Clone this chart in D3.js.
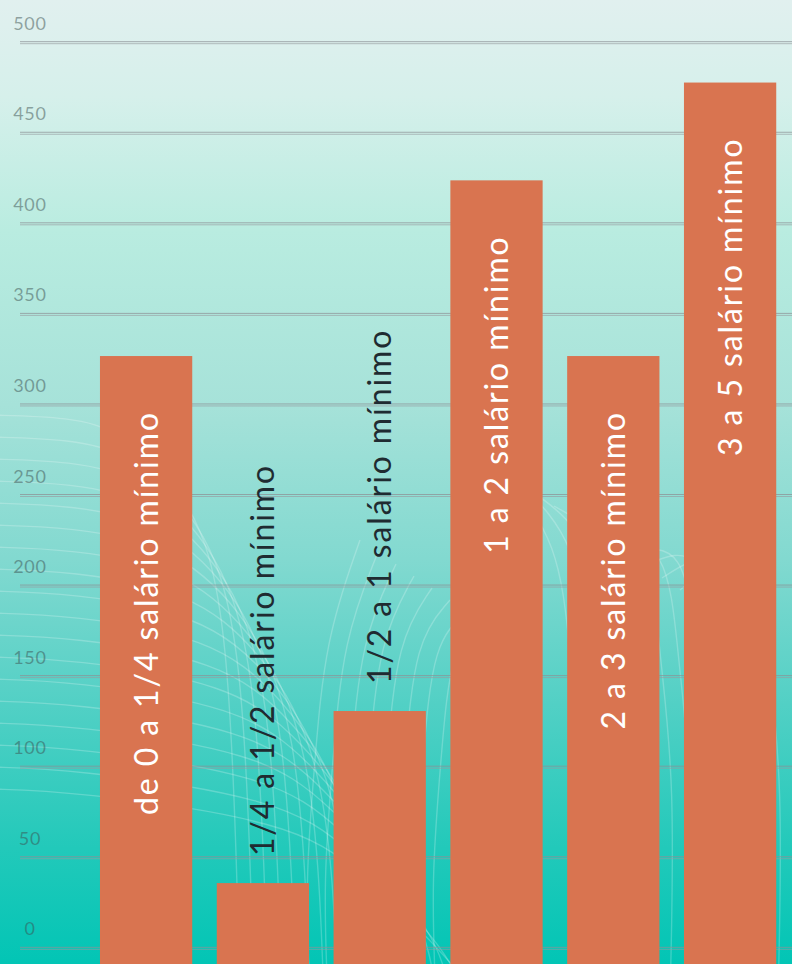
<!DOCTYPE html>
<html>
<head>
<meta charset="utf-8">
<script src="https://cdn.jsdelivr.net/npm/d3@7"></script>
<style>
  html, body { margin: 0; padding: 0; background: #ffffff; }
  svg { display: block; }
</style>
</head>
<body>
<div id="chart"></div>
<script>
var categories = [
  'de 0 a 1/4 salário mínimo',
  '1/4 a 1/2 salário mínimo',
  '1/2 a 1 salário mínimo',
  '1 a 2 salário mínimo',
  '2 a 3 salário mínimo',
  '3 a 5 salário mínimo'
];
var values = [327, 36, 131, 424, 327, 478];
var yTicks = [0, 50, 100, 150, 200, 250, 300, 350, 400, 450, 500];

var width = 792, height = 964;
var barColor = '#d97450';
var font = 'Lato, "Noto Sans", sans-serif';

var svg = d3.select('#chart').append('svg')
    .attr('width', width)
    .attr('height', height);

// background gradient
var defs = svg.append('defs');
var grad = defs.append('linearGradient')
    .attr('id', 'bg').attr('x1', 0).attr('y1', 0).attr('x2', 0).attr('y2', 1);
[[0, '#e1f0ef'], [0.1, '#d6f0eb'], [0.24, '#b9ece0'], [0.42, '#a6e2d9'],
 [0.58, '#82d9d0'], [0.73, '#52d0c5'], [0.88, '#22c9ba'], [1, '#02c5b5']]
  .forEach(function(s) {
    grad.append('stop').attr('offset', s[0]).attr('stop-color', s[1]);
  });

svg.append('rect')
    .attr('width', width).attr('height', height)
    .attr('fill', 'url(#bg)');

// decorative contour lines
var contour = svg.append('g')
    .attr('fill', 'none')
    .attr('stroke', '#ffffff')
    .attr('stroke-opacity', 0.22)
    .attr('stroke-width', 1.4);

var curve = d3.line().curve(d3.curveBasis);

// left family: horizontal sweeps bending down
for (var k = 0; k < 18; k++) {
  var y0 = 415 + k * 22;
  var xBend = 120 + k * 10;
  var xEnd = 230 + k * 14;
  contour.append('path').attr('d', curve([
    [-10, y0], [70, y0 + 2], [xBend, y0 + 15 + k], [xBend + 70, y0 + 80],
    [xEnd, y0 + 190], [xEnd + 10, 1000]
  ]));
}
// centre family: long gentle verticals
for (var j = 0; j < 9; j++) {
  var xs = 300 + j * 18;
  contour.append('path').attr('d', curve([
    [xs + 60, 540 + j * 12], [xs + 25, 640], [xs + 15, 760], [xs + 5, 880], [xs + 10, 1000]
  ]));
}
// right family
for (var m = 0; m < 12; m++) {
  var xr = 560 + m * 18;
  contour.append('path').attr('d', curve([
    [xr - 60, 470 + m * 12], [xr, 540], [xr + 10, 660], [xr + 25, 780], [xr + 20, 1000]
  ]));
}

// scales
var y = d3.scaleLinear()
    .domain([0, 500])
    .range([948.3, 42.7]);

var x = d3.scaleBand()
    .domain(categories)
    .range([87.7, 788.5])
    .paddingInner(0.21)
    .paddingOuter(0.105);

// gridlines (double lines)
var grid = svg.append('g').attr('class', 'grid');
yTicks.forEach(function(t) {
  grid.append('line')
      .attr('x1', 20).attr('x2', width)
      .attr('y1', y(t) - 1).attr('y2', y(t) - 1)
      .attr('stroke', 'rgba(140,145,150,0.75)').attr('stroke-width', 1);
  grid.append('line')
      .attr('x1', 20).attr('x2', width)
      .attr('y1', y(t) + 1).attr('y2', y(t) + 1)
      .attr('stroke', 'rgba(150,155,160,0.65)').attr('stroke-width', 1);
});

// y axis labels
svg.append('g').selectAll('text')
    .data(yTicks)
    .enter().append('text')
    .attr('x', 30)
    .attr('y', function(d) { return y(d) - 13; })
    .attr('text-anchor', 'middle')
    .attr('font-family', font)
    .attr('font-size', 18)
    .attr('letter-spacing', 0.8)
    .attr('fill', 'rgba(60,80,80,0.5)')
    .text(function(d) { return d; });

// bars
svg.append('g').selectAll('rect')
    .data(values)
    .enter().append('rect')
    .attr('x', function(d, i) { return x(categories[i]); })
    .attr('y', function(d) { return y(d); })
    .attr('width', x.bandwidth())
    .attr('height', function(d) { return height - y(d); })
    .attr('fill', barColor);

// rotated labels: inside tall bars, above short ones
svg.append('g').selectAll('text')
    .data(values)
    .enter().append('text')
    .attr('transform', function(d, i) {
      var cx = x(categories[i]) + x.bandwidth() / 2;
      var inside = d > 250;
      var ly = inside ? y(d) + 55 : y(d) - 27;
      return 'translate(' + cx + ',' + ly + ') rotate(-90)';
    })
    .attr('dy', '0.36em')
    .attr('text-anchor', function(d) { return d > 250 ? 'end' : 'start'; })
    .attr('font-family', font)
    .attr('font-weight', 400)
    .attr('font-size', 32)
    .attr('letter-spacing', 1.9)
    .attr('fill', function(d) { return d > 250 ? '#ffffff' : '#1f2b31'; })
    .text(function(d, i) { return categories[i]; });
</script>
</body>
</html>
